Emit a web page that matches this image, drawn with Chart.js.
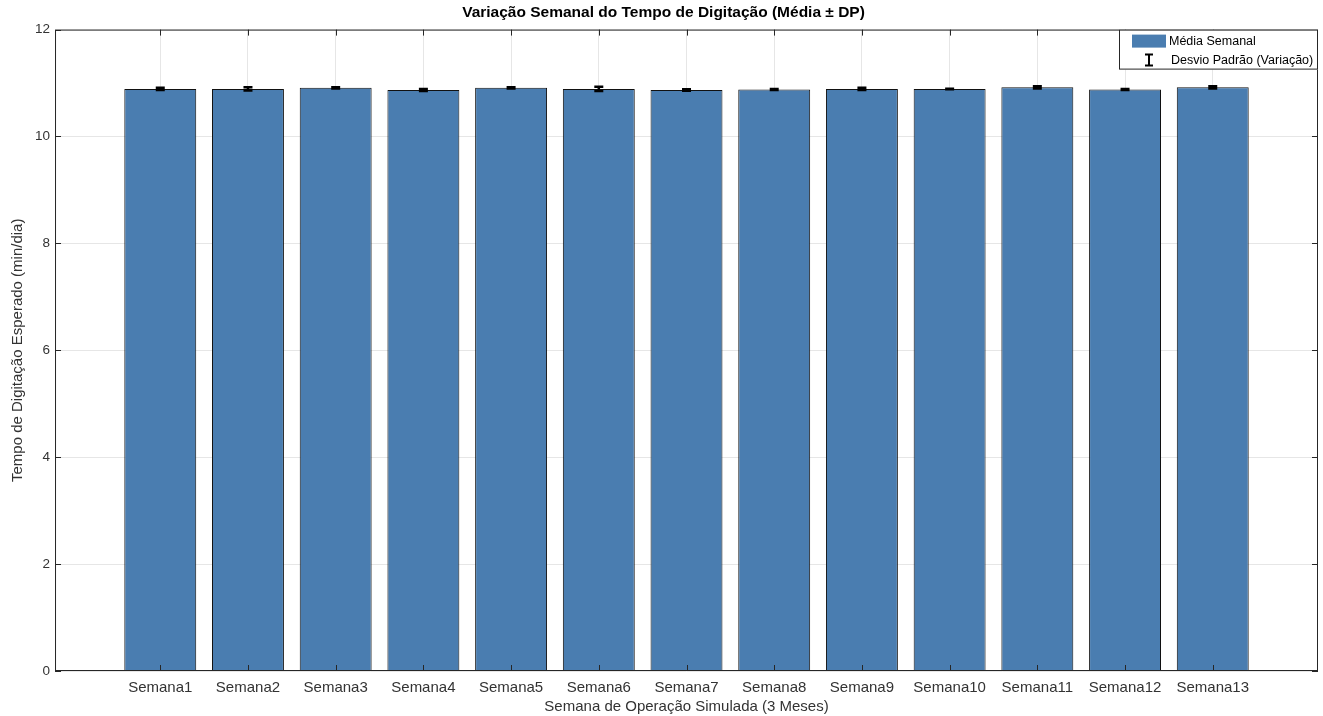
<!DOCTYPE html>
<html>
<head>
<meta charset="utf-8">
<script src="https://cdn.jsdelivr.net/npm/chart.js@4.4.1/dist/chart.umd.min.js"></script>
<style>
  html, body { margin: 0; padding: 0; background: #fff; }
  #wrap { width: 1323px; height: 716px; }
</style>
</head>
<body>
<div id="wrap"><canvas id="chart"></canvas></div>
<script>
const weeks = ['Semana1', 'Semana2', 'Semana3', 'Semana4', 'Semana5', 'Semana6', 'Semana7',
  'Semana8', 'Semana9', 'Semana10', 'Semana11', 'Semana12', 'Semana13'];
const meanValues = [10.89, 10.89, 10.91, 10.87, 10.91, 10.89, 10.87, 10.88, 10.89, 10.89, 10.92, 10.88, 10.92];
const sdValues = [0.02, 0.03, 0.01, 0.02, 0.01, 0.04, 0.015, 0.01, 0.02, 0.005, 0.02, 0.01, 0.02];
const yTicks = [0, 2, 4, 6, 8, 10, 12];

const barColor = '#4a7db0';
const axisColor = '#262626';
const gridColor = '#e6e6e6';
const fontFamily = '"Liberation Sans", Arial, sans-serif';

// error bars, box, inward ticks and legend, MATLAB style
const matlabPlugin = {
  id: 'matlab',
  afterDatasetsDraw(chart) {
    const { ctx, scales: { x, y } } = chart;
    ctx.save();
    ctx.strokeStyle = '#000';
    ctx.lineWidth = 2.5;
    meanValues.forEach((m, i) => {
      const px = x.getPixelForValue(i);
      const top = y.getPixelForValue(m + sdValues[i]);
      const bot = y.getPixelForValue(m - sdValues[i]);
      ctx.beginPath();
      ctx.moveTo(px, top); ctx.lineTo(px, bot);
      ctx.moveTo(px - 4.5, top); ctx.lineTo(px + 4.5, top);
      ctx.moveTo(px - 4.5, bot); ctx.lineTo(px + 4.5, bot);
      ctx.stroke();
    });
    ctx.restore();
  },
  afterDraw(chart) {
    const { ctx, chartArea: a, scales: { x, y } } = chart;
    ctx.save();
    ctx.strokeStyle = axisColor;
    ctx.lineWidth = 1;
    ctx.strokeRect(a.left + 0.5, a.top + 0.5, a.right - a.left - 1, a.bottom - a.top - 1);
    ctx.beginPath();
    weeks.forEach((_, i) => {
      const px = Math.round(x.getPixelForValue(i)) + 0.5;
      ctx.moveTo(px, a.bottom); ctx.lineTo(px, a.bottom - 6);
      ctx.moveTo(px, a.top); ctx.lineTo(px, a.top + 6);
    });
    yTicks.forEach(v => {
      const py = Math.round(y.getPixelForValue(v)) + 0.5;
      ctx.moveTo(a.left, py); ctx.lineTo(a.left + 6, py);
      ctx.moveTo(a.right, py); ctx.lineTo(a.right - 6, py);
    });
    ctx.stroke();

    // legend
    const lx = a.right - 199, ly = a.top, lw = 199, lh = 40;
    ctx.fillStyle = '#fff';
    ctx.fillRect(lx, ly, lw, lh);
    ctx.strokeStyle = '#262626';
    ctx.strokeRect(lx + 0.5, ly + 0.5, lw - 1, lh - 1);
    ctx.fillStyle = barColor;
    ctx.fillRect(lx + 13, ly + 5, 34, 13);
    ctx.strokeStyle = '#000';
    ctx.lineWidth = 2;
    const ix = lx + 30;
    ctx.beginPath();
    ctx.moveTo(ix, ly + 25); ctx.lineTo(ix, ly + 36);
    ctx.moveTo(ix - 4, ly + 25); ctx.lineTo(ix + 4, ly + 25);
    ctx.moveTo(ix - 4, ly + 36); ctx.lineTo(ix + 4, ly + 36);
    ctx.stroke();
    ctx.fillStyle = '#000';
    ctx.font = '12.5px ' + fontFamily;
    ctx.textBaseline = 'middle';
    ctx.fillText('Média Semanal', lx + 50, ly + 12);
    ctx.fillText('Desvio Padrão (Variação)', lx + 52, ly + 31);
    ctx.restore();
  }
};

new Chart(document.getElementById('chart'), {
  type: 'bar',
  data: {
    datasets: [{
      label: 'Média Semanal',
      data: meanValues.map((v, i) => ({ x: i, y: v })),
      backgroundColor: barColor,
      borderColor: '#111',
      borderWidth: 1,
      categoryPercentage: 1,
      barPercentage: 0.82
    }]
  },
  options: {
    responsive: true,
    maintainAspectRatio: false,
    animation: false,
    layout: { padding: { left: 9, right: 5, top: 0, bottom: 0 } },
    scales: {
      x: {
        type: 'linear',
        offset: false,
        min: -1.2,
        max: 13.2,
        afterBuildTicks: scale => { scale.ticks = weeks.map((_, i) => ({ value: i })); },
        ticks: {
          callback: v => weeks[v],
          color: '#333',
          font: { family: fontFamily, size: 15 },
          maxRotation: 0,
          autoSkip: false,
          padding: 8
        },
        grid: { color: gridColor, drawTicks: false, offset: false },
        border: { display: false },
        title: {
          display: true,
          text: 'Semana de Operação Simulada (3 Meses)',
          color: '#333',
          font: { family: fontFamily, size: 15 },
          padding: { top: -7, bottom: 0 }
        }
      },
      y: {
        min: 0,
        max: 12,
        afterBuildTicks: scale => { scale.ticks = yTicks.map(v => ({ value: v })); },
        ticks: {
          color: '#333',
          font: { family: fontFamily, size: 13.5 },
          padding: 5
        },
        grid: { color: gridColor, drawTicks: false },
        border: { display: false },
        title: {
          display: true,
          text: 'Tempo de Digitação Esperado (min/dia)',
          color: '#333',
          font: { family: fontFamily, size: 15 },
          padding: { top: 0, bottom: 3 }
        }
      }
    },
    plugins: {
      legend: { display: false },
      tooltip: { enabled: false },
      title: {
        display: true,
        text: 'Variação Semanal do Tempo de Digitação (Média ± DP)',
        color: '#000',
        font: { family: fontFamily, size: 15.5, weight: 'bold' },
        padding: { top: 3, bottom: 8 }
      }
    }
  },
  plugins: [matlabPlugin]
});
</script>
</body>
</html>
